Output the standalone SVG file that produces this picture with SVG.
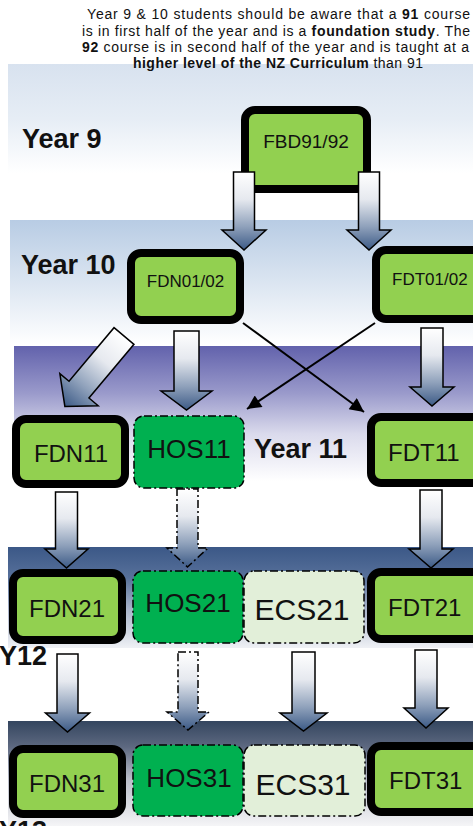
<svg xmlns="http://www.w3.org/2000/svg" width="473" height="826" viewBox="0 0 473 826">
<defs>
<linearGradient id="b1" x1="0" y1="0" x2="0" y2="1"><stop offset="0" stop-color="#d8e2ef"/><stop offset="0.5" stop-color="#e6edf5"/><stop offset="1" stop-color="#ffffff"/></linearGradient>
<linearGradient id="b2" x1="0" y1="0" x2="0" y2="1"><stop offset="0" stop-color="#b8cce4"/><stop offset="0.5" stop-color="#dbe5f1"/><stop offset="1" stop-color="#ffffff"/></linearGradient>
<linearGradient id="b3" x1="0" y1="0" x2="0" y2="1"><stop offset="0" stop-color="#6262ac"/><stop offset="0.35" stop-color="#9a9acb"/><stop offset="0.65" stop-color="#dadaec"/><stop offset="1" stop-color="#ffffff"/></linearGradient>
<linearGradient id="b4" x1="0" y1="0" x2="0" y2="1"><stop offset="0" stop-color="#3b5887"/><stop offset="0.3" stop-color="#57709a"/><stop offset="0.62" stop-color="#a9b4ca"/><stop offset="1" stop-color="#eff1f5"/></linearGradient>
<linearGradient id="b5" x1="0" y1="0" x2="0" y2="1"><stop offset="0" stop-color="#34465f"/><stop offset="0.25" stop-color="#5e6981"/><stop offset="0.55" stop-color="#b8bcc8"/><stop offset="1" stop-color="#f5f5f7"/></linearGradient>
<linearGradient id="ag" x1="0" y1="0" x2="0" y2="1"><stop offset="0" stop-color="#ffffff"/><stop offset="0.35" stop-color="#e6e9ef"/><stop offset="0.7" stop-color="#8fa1bb"/><stop offset="1" stop-color="#3c5a86"/></linearGradient>
<marker id="ah" viewBox="0 0 10 10" refX="10" refY="5" markerWidth="8" markerHeight="7" markerUnits="strokeWidth" orient="auto"><path d="M0,0 L10,5 L0,10 Z" fill="#000"/></marker>
</defs>
<style>
.t{font-family:"Liberation Sans",Arial,sans-serif;fill:#111}
.yr{font-family:"Liberation Sans",Arial,sans-serif;font-weight:bold;font-size:27px;fill:#111}
.lbl{font-family:"Liberation Sans",Arial,sans-serif;fill:#111;text-anchor:middle}
.main{fill:#92d050;stroke:#000;stroke-width:8}
.hos{fill:#00b050;stroke:#000;stroke-width:1.5;stroke-dasharray:8 3 2 3}
.ecs{fill:#e2efd9;stroke:#000;stroke-width:1.5;stroke-dasharray:8 3 2 3}
.arr{fill:url(#ag);stroke:#000;stroke-width:1.5;stroke-linejoin:miter}
.arrd{fill:url(#ag);stroke:#000;stroke-width:1.5;stroke-dasharray:8 3 2 3}
.ln{stroke:#000;stroke-width:2;fill:none}
</style>

<g id="bands">
<rect x="8" y="64" width="465" height="109" fill="url(#b1)"/>
<rect x="10" y="220" width="463" height="125" fill="url(#b2)"/>
<rect x="14" y="346" width="459" height="135" fill="url(#b3)"/>
<rect x="8" y="547" width="465" height="101" fill="url(#b4)"/>
<rect x="8" y="721" width="465" height="105" fill="url(#b5)"/>
</g>

<g id="intro" class="t" font-size="14">
<text x="87" y="19" textLength="383">Year 9  &amp; 10 students should be aware that a <tspan font-weight="bold">91</tspan> course</text>
<text x="82" y="36" textLength="388">is in first half of the year and is a <tspan font-weight="bold">foundation study</tspan>.  The</text>
<text x="82" y="52" textLength="387"><tspan font-weight="bold">92</tspan> course is in second half of the year and is taught at a</text>
<text x="133" y="68" textLength="290"><tspan font-weight="bold">higher level of the NZ Curriculum</tspan> than 91</text>
</g>

<g id="year-labels">
<text class="yr" x="22" y="148">Year 9</text>
<text class="yr" x="21" y="274">Year 10</text>
<text class="yr" x="254" y="458">Year 11</text>
<text class="yr" x="-1" y="665" font-size="26">Y12</text>
<text class="yr" x="-1" y="840" font-size="26">Y13</text>
</g>

<g id="FBD9192"><rect class="main" x="245" y="110" width="122" height="79" rx="10"/><text class="lbl" x="306" y="148" font-size="19">FBD91/92</text></g>
<g id="FDN0102"><rect class="main" x="131" y="253" width="109" height="67" rx="10"/><text class="lbl" x="185.5" y="287" font-size="17">FDN01/02</text></g>
<g id="FDT0102"><rect class="main" x="376" y="250" width="120" height="69" rx="10"/><text class="t" x="392" y="285" font-size="17">FDT01/02</text></g>

<g id="FDN11"><rect class="main" x="16" y="419" width="109" height="65" rx="10"/><text class="lbl" x="71" y="462" font-size="24">FDN11</text></g>
<g id="HOS11"><rect class="hos" x="134" y="416" width="110" height="72" rx="10"/><text class="lbl" x="189" y="458" font-size="26">HOS11</text></g>
<g id="FDT11"><rect class="main" x="371" y="417" width="120" height="66" rx="10"/><text class="t" x="388" y="461" font-size="24">FDT11</text></g>

<g id="FDN21"><rect class="main" x="13" y="573" width="109" height="67" rx="10"/><text class="lbl" x="67" y="617" font-size="24">FDN21</text></g>
<g id="HOS21"><rect class="hos" x="133" y="571" width="110" height="72" rx="10"/><text class="lbl" x="188" y="612" font-size="26">HOS21</text></g>
<g id="ECS21"><rect class="ecs" x="244" y="571" width="120" height="72" rx="10"/><text class="lbl" x="302" y="620" font-size="30">ECS21</text></g>
<g id="FDT21"><rect class="main" x="371" y="572" width="120" height="67" rx="10"/><text class="t" x="388" y="616" font-size="24">FDT21</text></g>

<g id="FDN31"><rect class="main" x="13" y="749" width="109" height="65" rx="10"/><text class="lbl" x="67" y="792" font-size="24">FDN31</text></g>
<g id="HOS31"><rect class="hos" x="133" y="745" width="110" height="71" rx="10"/><text class="lbl" x="189" y="787" font-size="26">HOS31</text></g>
<g id="ECS31"><rect class="ecs" x="244" y="745" width="121" height="71" rx="10"/><text class="lbl" x="303" y="795" font-size="30">ECS31</text></g>
<g id="FDT31"><rect class="main" x="371" y="746" width="120" height="66" rx="10"/><text class="t" x="389" y="789" font-size="24">FDT31</text></g>

<g id="connectors">
<path class="arr" d="M233.5,172 H254.5 V230 H266 L244,250 L222,230 H233.5 Z"/>
<path class="arr" d="M358.5,172 H379.5 V230 H391 L369,250 L347,230 H358.5 Z"/>
<path class="arr" d="M174,331 H199 V391 H212 L186.5,410 L161,391 H174 Z"/>
<path class="arr" d="M421,328 H443 V387 H454 L432,406 L410,387 H421 Z"/>
<path class="arr" transform="translate(124,336) rotate(40)" d="M-13,0 H13 V70 H25 L0,92 L-25,70 H-13 Z"/>
<path class="arr" d="M55.5,492 H77.5 V549 H88 L66.5,568 L45,549 H55.5 Z"/>
<path class="arrd" d="M177,489 H198 V548 H208 L187.5,567 L167,548 H177 Z"/>
<path class="arr" d="M420,490 H442 V549 H453 L431,568 L409,549 H420 Z"/>
<path class="arr" d="M57,654 H78 V713 H89.5 L67.5,732 L45.5,713 H57 Z"/>
<path class="arrd" d="M178,652 H198 V712 H209 L188,730 L167,712 H178 Z"/>
<path class="arr" d="M292,652 H315 V713 H327 L303.5,731 L280,713 H292 Z"/>
<path class="arr" d="M415,650 H437 V708 H448 L426,728 L404,708 H415 Z"/>
<line class="ln" x1="243" y1="323" x2="364" y2="412" marker-end="url(#ah)"/>
<line class="ln" x1="375" y1="323" x2="247" y2="409" marker-end="url(#ah)"/>
</g>
</svg>
